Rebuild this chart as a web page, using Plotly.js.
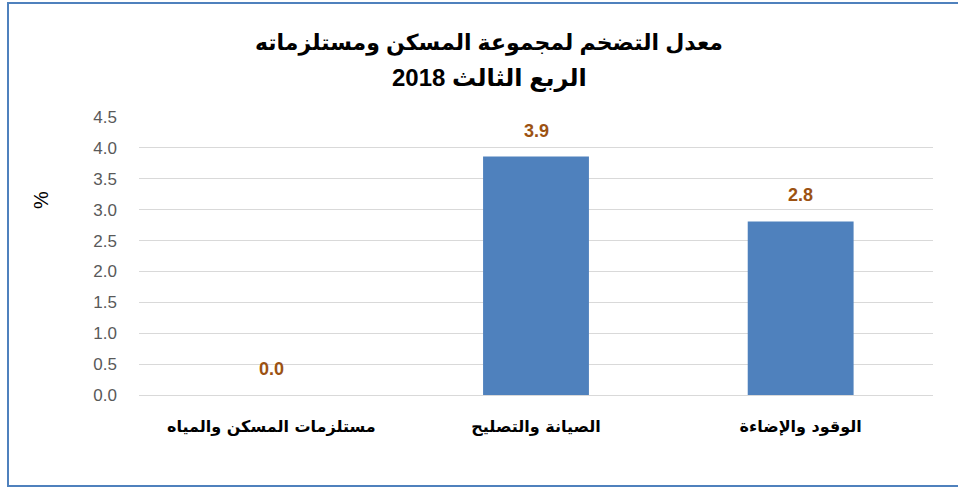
<!DOCTYPE html>
<html>
<head>
<meta charset="utf-8">
<script src="https://cdn.plot.ly/plotly-3.0.1.min.js"></script>
<style>html,body{margin:0;padding:0;background:#fff;}#chart{width:958px;height:489px;}</style>
</head>
<body>
<div id="chart"></div>
<script>
const categories = ["مستلزمات المسكن والمياه", "الصيانة والتصليح", "الوقود والإضاءة"];
const values = [0.0, 3.86, 2.81];
const yTicks = [0, 0.5, 1, 1.5, 2, 2.5, 3, 3.5, 4, 4.5];
const yTickLabels = ["0.0", "0.5", "1.0", "1.5", "2.0", "2.5", "3.0", "3.5", "4.0", "4.5"];
const titleLine1 = "معدل التضخم لمجموعة المسكن ومستلزماته";
const titleLine2 = "الربع الثالث 2018";

const W = 958, H = 489;
const ml = 139, mr = 25, mt = 117, mb = 94;
const pw = W - ml - mr, ph = H - mt - mb;
function px(x){ return (x - ml) / pw; }
function py(y){ return (H - mb - y) / ph; }

const trace = {
  type: 'bar',
  x: categories,
  y: values,
  marker: {color: '#4F81BD', line: {width: 0}},
  cliponaxis: false,
  hoverinfo: 'none'
};

const labelAnnotations = categories.map((c, i) => ({
  x: c, y: values[i], xref: 'x', yref: 'y',
  text: '<b>' + values[i].toFixed(1) + '</b>',
  showarrow: false, yanchor: 'bottom', yshift: 14,
  font: {family: 'Liberation Sans, Arial, sans-serif', size: 18, color: '#9C5212'}
}));

const titleFont = {family: 'Liberation Sans, DejaVu Sans, Arial, sans-serif', size: 22, color: '#000000'};

const layout = {
  width: W, height: H,
  margin: {l: ml, r: mr, t: mt, b: mb, pad: 0},
  paper_bgcolor: '#ffffff',
  plot_bgcolor: '#ffffff',
  bargap: 0.6,
  showlegend: false,
  xaxis: {
    type: 'category',
    showgrid: false,
    zeroline: false,
    showline: false,
    ticks: '',
    ticklabelstandoff: 20,
    tickfont: {family: 'DejaVu Sans, Arial, sans-serif', size: 16, color: '#000000', weight: 'bold'}
  },
  yaxis: {
    range: [0, 4.5],
    tickvals: yTicks,
    ticktext: yTickLabels,
    showgrid: true,
    gridcolor: '#d9d9d9',
    gridwidth: 1,
    zeroline: true,
    zerolinecolor: '#d9d9d9',
    zerolinewidth: 1,
    showline: false,
    ticks: '',
    ticklabelstandoff: 21,
    tickfont: {family: 'Liberation Sans, Arial, sans-serif', size: 17, color: '#595959'}
  },
  annotations: labelAnnotations.concat([
    {xref: 'paper', yref: 'paper', x: px(489), y: py(43), xanchor: 'center', yanchor: 'middle',
     text: '<b>' + titleLine1 + '</b>', showarrow: false, font: titleFont},
    {xref: 'paper', yref: 'paper', x: px(489), y: py(78), xanchor: 'center', yanchor: 'middle',
     text: '<b>' + titleLine2 + '</b>', showarrow: false, font: Object.assign({}, titleFont, {size: 24})},
    {xref: 'paper', yref: 'paper', x: px(41), y: py(200), xanchor: 'center', yanchor: 'middle',
     text: '%', textangle: -90, showarrow: false,
     font: {family: 'Liberation Sans, Arial, sans-serif', size: 20, color: '#000000'}}
  ]),
  shapes: [{
    type: 'rect', xref: 'paper', yref: 'paper',
    x0: px(8), x1: px(970), y0: py(486), y1: py(3),
    line: {color: '#4F81BD', width: 2},
    fillcolor: 'rgba(0,0,0,0)',
    layer: 'above'
  }]
};

Plotly.newPlot('chart', [trace], layout, {staticPlot: true, displayModeBar: false});
</script>
</body>
</html>
